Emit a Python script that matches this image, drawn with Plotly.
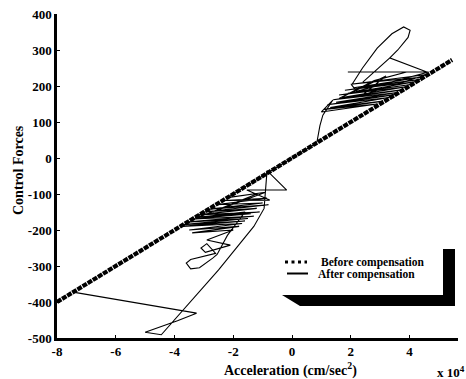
import plotly.graph_objects as go

# Reference line (before compensation): end points of the straight trace
before_x = [-8.0, 5.45]
before_y = [-400.0, 272.5]

# Measured trajectory after compensation (acceleration x 10^4, force)
after_x = [
    -7.45, -3.50, -3.25, -3.90, -5.00, -4.45, -2.50, -1.30, -0.95, -0.85,
    -0.18, -1.54, -0.76,
    -2.30, -0.85, -2.60, -1.00, -2.80, -0.80, -3.00, -1.20, -3.20, -1.10,
    -3.30, -1.40, -3.50, -1.30, -3.60, -1.50, -3.70, -1.60, -3.75, -1.70,
    -3.50, -1.80, -3.40, -2.00, -2.90,
    -2.10, -2.95, -3.10, -2.90, -2.60, -3.45, -3.60, -3.45, -3.15, -2.70,
    -2.55, -2.20, -1.60, -3.20, -1.20, -2.70, -0.90, -2.20,
    -1.00, 0.00, 0.78, 0.85, 0.95, 1.05, 1.39,
    1.00, 2.90, 1.10, 3.10, 1.30, 3.30, 1.20, 3.50, 1.50, 3.60, 1.40, 3.80,
    1.70, 3.90, 1.60, 4.10, 1.90, 4.20, 1.80, 4.35, 2.10, 4.45, 2.00, 4.60,
    2.40, 3.20, 1.60, 2.80, 3.90, 1.90, 4.65, 2.20,
    2.03, 2.40, 2.90, 3.40, 3.80, 4.02, 3.95, 3.60, 3.33, 2.41, 3.33, 4.59,
]
after_y = [
    -372.5, -427, -431, -452, -484, -491, -311, -190, -140, -35,
    -89, -89, -117,
    -118, -112, -130, -125, -142, -130, -150, -140, -158, -150,
    -165, -155, -170, -162, -178, -168, -185, -175, -190, -182,
    -200, -190, -208, -200, -228,
    -242, -262, -250, -238, -265, -282, -292, -308, -305, -278,
    -268, -215, -150, -165, -100, -150, -95, -110,
    -50, 0, 39, 45, 90, 119, 161,
    128, 150, 135, 158, 140, 168, 148, 176, 155, 182, 162, 190,
    168, 198, 175, 205, 180, 212, 188, 218, 195, 225, 205, 232,
    175, 228, 165, 215, 239, 239, 239, 185,
    203, 250, 305, 345, 364, 355, 335, 300, 278, 211, 278, 239,
]

x_ticks = [-8, -6, -4, -2, 0, 2, 4]
y_ticks = [-500, -400, -300, -200, -100, 0, 100, 200, 300, 400]

SERIF = "Liberation Serif, Times New Roman, serif"

fig = go.Figure()
fig.add_trace(go.Scatter(
    x=before_x, y=before_y, mode="lines",
    line=dict(color="black", width=4.2, dash="5px,1px"),
    showlegend=False, hoverinfo="skip",
))
fig.add_trace(go.Scatter(
    x=after_x, y=after_y, mode="lines",
    line=dict(color="black", width=1.1),
    showlegend=False, hoverinfo="skip",
))

W, H = 466, 379
L, R, T, B = 57, 8, 14, 41
pw, ph = W - L - R, H - T - B


def px(xp):
    return (xp - L) / pw


def py(yp):
    return (H - B - yp) / ph


# legend frame shadow (right bar + bottom wedge)
shadow = [(443, 249), (455, 249), (455, 306), (300, 306), (282, 295), (443, 295)]
path = "M " + " L ".join(f"{px(a):.4f},{py(b):.4f}" for a, b in shadow) + " Z"
shapes = [
    dict(type="path", xref="paper", yref="paper", path=path,
         fillcolor="black", line=dict(width=0)),
    dict(type="line", xref="paper", yref="paper",
         x0=px(285), x1=px(307), y0=py(262), y1=py(262),
         line=dict(color="black", width=3, dash="3px,3.5px")),
    dict(type="line", xref="paper", yref="paper",
         x0=px(287), x1=px(308), y0=py(273.5), y1=py(273.5),
         line=dict(color="black", width=2)),
]

bold = dict(family=SERIF, size=11.5, color="black")
annotations = [
    dict(text="<b>Before compensation</b>", x=px(319), y=py(262), xref="paper", yref="paper",
         xanchor="left", yanchor="middle", showarrow=False, font=bold),
    dict(text="<b>After compensation</b>", x=px(316), y=py(274), xref="paper", yref="paper",
         xanchor="left", yanchor="middle", showarrow=False, font=bold),
    dict(text="<b>Control Forces</b>", x=px(18), y=py(170), xref="paper", yref="paper",
         textangle=-90, xanchor="center", yanchor="middle", showarrow=False,
         font=dict(family=SERIF, size=14, color="black")),
    dict(text="<b>Acceleration (cm/sec<sup>2</sup>)</b>", x=px(290), y=py(369),
         xref="paper", yref="paper", xanchor="center", yanchor="middle",
         showarrow=False, font=dict(family=SERIF, size=14, color="black")),
    dict(text="<b>x 10<sup>4</sup></b>", x=px(435), y=py(372), xref="paper", yref="paper",
         xanchor="left", yanchor="middle", showarrow=False,
         font=dict(family=SERIF, size=13, color="black")),
]

fig.update_layout(
    width=W, height=H,
    margin=dict(l=L, r=R, t=T, b=B),
    paper_bgcolor="white", plot_bgcolor="white",
    showlegend=False,
    shapes=shapes, annotations=annotations,
    xaxis=dict(range=[-8, 5.65], tickvals=x_ticks, ticktext=[f"<b>{v}</b>" for v in x_ticks],
               ticks="inside", ticklen=3, tickwidth=1, tickcolor="black",
               showline=True, linecolor="black", linewidth=2.5,
               showgrid=False, zeroline=False,
               tickfont=dict(family=SERIF, size=13, color="black")),
    yaxis=dict(range=[-500, 400], tickvals=y_ticks, ticktext=[f"<b>{v}</b>" for v in y_ticks],
               ticks="inside", ticklen=3, tickwidth=1, tickcolor="black",
               showline=True, linecolor="black", linewidth=2.5,
               showgrid=False, zeroline=False,
               tickfont=dict(family=SERIF, size=13, color="black")),
)

fig.write_html("out.html")
